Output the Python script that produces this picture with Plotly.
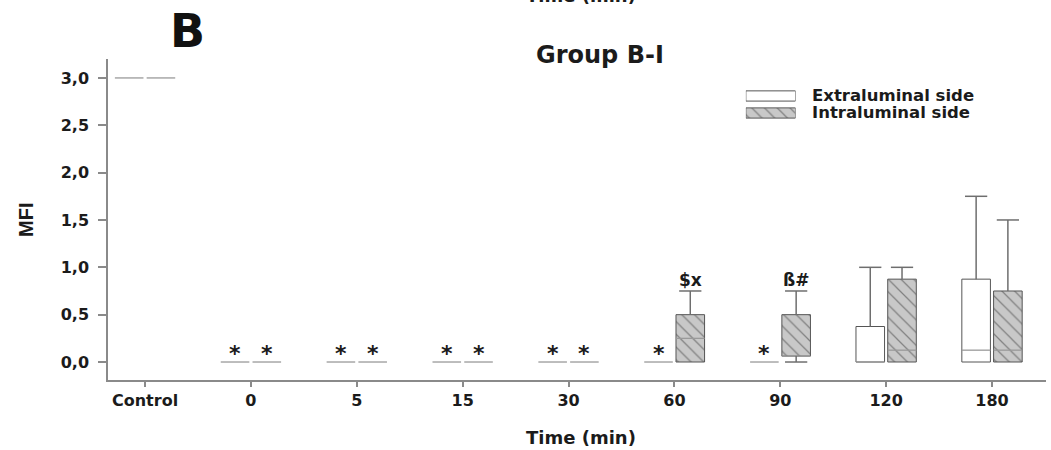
import plotly.graph_objects as go

# Time points (minutes) and box-plot summaries of MFI per side
categories = ["Control", "0", "5", "15", "30", "60", "90", "120", "180"]

extra_lower = [3.0, 0, 0, 0, 0, 0, 0, 0, 0]
extra_q1 = [3.0, 0, 0, 0, 0, 0, 0, 0, 0]
extra_median = [3.0, 0, 0, 0, 0, 0, 0, 0, 0.125]
extra_q3 = [3.0, 0, 0, 0, 0, 0, 0, 0.375, 0.875]
extra_upper = [3.0, 0, 0, 0, 0, 0, 0, 1.0, 1.75]

intra_lower = [3.0, 0, 0, 0, 0, 0, 0, 0, 0]
intra_q1 = [3.0, 0, 0, 0, 0, 0, 0.0625, 0, 0]
intra_median = [3.0, 0, 0, 0, 0, 0.25, 0.0625, 0.125, 0.125]
intra_q3 = [3.0, 0, 0, 0, 0, 0.5, 0.5, 0.875, 0.75]
intra_upper = [3.0, 0, 0, 0, 0, 0.75, 0.75, 1.0, 1.5]

# significance marks drawn above each box
extra_marks = ["", "*", "*", "*", "*", "*", "*", "", ""]
intra_marks = ["", "*", "*", "*", "*", "$x", "ß#", "", ""]

y_ticks = [0.0, 0.5, 1.0, 1.5, 2.0, 2.5, 3.0]
y_tick_text = ["0,0", "0,5", "1,0", "1,5", "2,0", "2,5", "3,0"]

FONT = "DejaVu Sans"
TXT = "#1b1b1b"
BOX_W = 0.27
CAP_HALF = 0.105
OFFSET = 0.15

fig = go.Figure()


def add_series(offset, lower, q1, med, q3, upper, fill, pattern, name):
    xs = [i + offset for i in range(len(categories))]
    base = [a if b > a else None for a, b in zip(q1, q3)]
    height = [b - a if b > a else None for a, b in zip(q1, q3)]
    fig.add_trace(go.Bar(
        x=xs, y=height, base=base, width=BOX_W, name=name,
        marker=dict(color=fill, line=dict(color="#555555", width=1), pattern=pattern),
        showlegend=False, hoverinfo="skip",
    ))
    # medians (also the flat lines of degenerate boxes)
    mx, my = [], []
    for x, m in zip(xs, med):
        mx += [x - BOX_W / 2, x + BOX_W / 2, None]
        my += [m, m, None]
    fig.add_trace(go.Scatter(x=mx, y=my, mode="lines",
                             line=dict(color="#9a9a9a", width=1.3),
                             showlegend=False, hoverinfo="skip"))
    # whiskers with caps
    wx, wy = [], []
    for x, lo, a, b, hi in zip(xs, lower, q1, q3, upper):
        if hi > b:
            wx += [x, x, None, x - CAP_HALF, x + CAP_HALF, None]
            wy += [b, hi, None, hi, hi, None]
        if lo < a:
            wx += [x, x, None, x - CAP_HALF, x + CAP_HALF, None]
            wy += [a, lo, None, lo, lo, None]
    fig.add_trace(go.Scatter(x=wx, y=wy, mode="lines",
                             line=dict(color="#6e6e6e", width=1.5),
                             showlegend=False, hoverinfo="skip"))
    return xs


hatch = dict(shape="\\", fgcolor="#3a3a3a", bgcolor="#c8c8c8", size=9, solidity=0.14)

ex_x = add_series(-OFFSET, extra_lower, extra_q1, extra_median, extra_q3, extra_upper,
                  "white", None, "Extraluminal side")
in_x = add_series(OFFSET, intra_lower, intra_q1, intra_median, intra_q3, intra_upper,
                  "#c8c8c8", hatch, "Intraluminal side")

annotations = []
for xs, marks, tops in ((ex_x, extra_marks, extra_upper), (in_x, intra_marks, intra_upper)):
    for x, m, t in zip(xs, marks, tops):
        if not m:
            continue
        star = m == "*"
        annotations.append(dict(
            x=x, y=t, xref="x", yref="y", text=m, showarrow=False,
            yanchor="middle", yshift=9 if star else 11,
            font=dict(family=FONT, size=22 if star else 17, color=TXT, weight="bold"),
        ))

# legend swatches on a small overlay axis
leg_names = ["Extraluminal side", "Intraluminal side"]
fig.add_trace(go.Bar(x=[1], y=[1], base=[0], orientation="h", width=0.6,
                     marker=dict(color="white", line=dict(color="#555555", width=1)),
                     xaxis="x2", yaxis="y2", showlegend=False, hoverinfo="skip"))
fig.add_trace(go.Bar(x=[1], y=[0], base=[0], orientation="h", width=0.6,
                     marker=dict(color="#c8c8c8", line=dict(color="#555555", width=1),
                                 pattern=hatch),
                     xaxis="x2", yaxis="y2", showlegend=False, hoverinfo="skip"))
for i, nm in enumerate(leg_names):
    annotations.append(dict(
        x=0.748, y=1 - i, xref="paper", yref="y2", text=nm, showarrow=False,
        xanchor="left", yanchor="middle",
        font=dict(family=FONT, size=16.5, color=TXT, weight="bold"),
    ))

annotations += [
    dict(x=0.064, y=1.088, xref="paper", yref="paper", text="B", showarrow=False,
         xanchor="left", yanchor="middle",
         font=dict(family=FONT, size=46, color="#111111", weight="bold")),
    dict(x=0.525, y=1.012, xref="paper", yref="paper", text="Group B-I", showarrow=False,
         xanchor="center", yanchor="middle",
         font=dict(family=FONT, size=24, color=TXT, weight="bold")),
    dict(x=0.504, y=1.16, xref="paper", yref="paper", text="Time (min)", showarrow=False,
         xanchor="center", yanchor="bottom",
         font=dict(family=FONT, size=18, color=TXT, weight="bold")),
    dict(x=0.504, y=-0.14, xref="paper", yref="paper", text="Time (min)", showarrow=False,
         xanchor="center", yanchor="top",
         font=dict(family=FONT, size=18, color=TXT, weight="bold")),
    dict(x=-0.088, y=0.5, xref="paper", yref="paper", text="MFI", showarrow=False,
         textangle=-90, xanchor="center", yanchor="middle",
         font=dict(family="Liberation Sans", size=20, color=TXT, weight="bold")),
]

fig.update_layout(
    width=1051, height=450,
    margin=dict(l=108, r=5, t=59, b=70),
    paper_bgcolor="white", plot_bgcolor="white",
    barmode="overlay",
    annotations=annotations,
    xaxis=dict(
        range=[-0.35, 8.51], tickmode="array",
        tickvals=list(range(len(categories))), ticktext=categories,
        showline=True, linecolor="#8a8a8a", linewidth=1.5,
        ticks="outside", ticklen=5, tickcolor="#8a8a8a", tickwidth=1.5,
        showgrid=False, zeroline=False,
        tickfont=dict(family=FONT, size=16, color=TXT, weight="bold"),
    ),
    yaxis=dict(
        range=[-0.19, 3.2], tickmode="array", tickvals=y_ticks, ticktext=y_tick_text,
        showline=True, linecolor="#8a8a8a", linewidth=1.5,
        ticks="outside", ticklen=8, tickcolor="#8a8a8a", tickwidth=1.5,
        showgrid=False, zeroline=False, ticklabelstandoff=6,
        tickfont=dict(family=FONT, size=16, color=TXT, weight="bold"),
    ),
    xaxis2=dict(domain=[0.68, 0.733], range=[0, 1], visible=False, fixedrange=True,
                anchor="y2"),
    yaxis2=dict(domain=[0.8106, 0.906], range=[-0.4, 1.4], visible=False, fixedrange=True,
                anchor="x2"),
)

fig.write_html("out.html")
